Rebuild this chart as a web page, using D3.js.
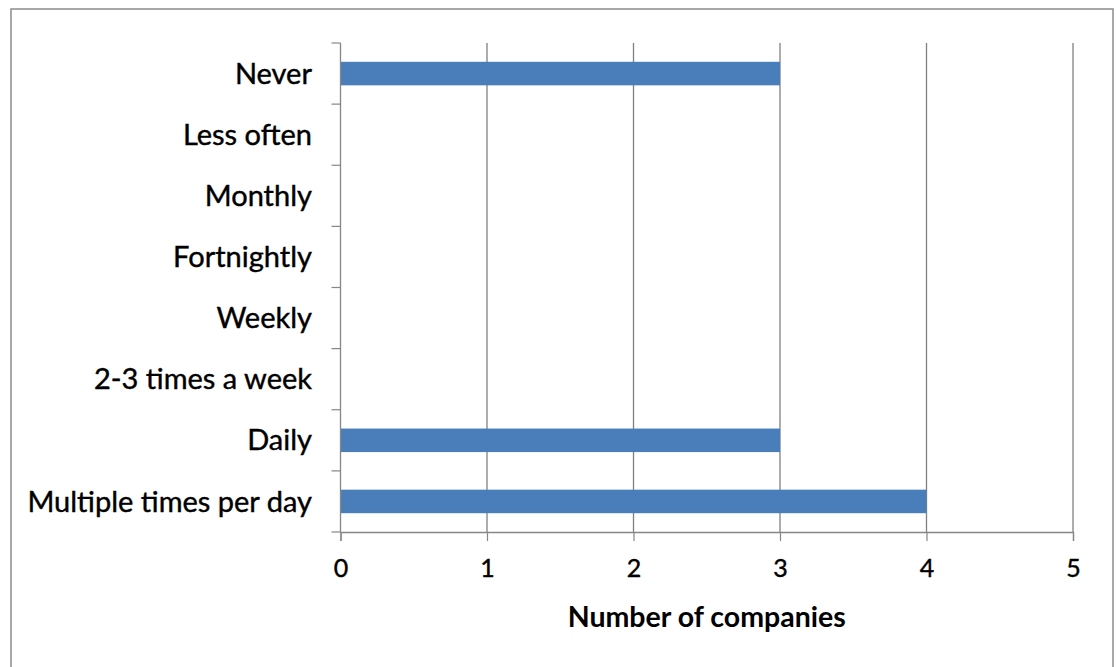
<!DOCTYPE html>
<html><head><meta charset="utf-8">
<script src="https://cdn.jsdelivr.net/npm/d3@7"></script>
<style>body{margin:0;background:#fff}svg{display:block}</style>
</head><body>
<svg id="c" width="1116" height="667"></svg>
<script>
const categories = ["Never","Less often","Monthly","Fortnightly","Weekly","2-3 times a week","Daily","Multiple times per day"];
const values = [3,0,0,0,0,0,3,4];
const xTicks = [0,1,2,3,4,5];
const xTitle = "Number of companies";

const svg = d3.select("#c");
const font = "Lato, 'Open Sans', sans-serif";
const m = {left:340.5, right:1073, top:43, bottom:532};

svg.append("rect").attr("x",11).attr("y",9).attr("width",1102).attr("height",665)
  .attr("fill","#fff").attr("stroke","#8c8c8c").attr("stroke-width",1.5);

const x = d3.scaleLinear().domain([0,5]).range([m.left,m.right]);
const y = d3.scaleBand().domain(categories).range([m.top,m.bottom]).paddingInner(0.615).paddingOuter(0.3075);

// gridlines
svg.append("g").selectAll("line").data(xTicks.filter(d=>d>0)).join("line")
  .attr("x1",d=>x(d)).attr("x2",d=>x(d)).attr("y1",m.top).attr("y2",m.bottom)
  .attr("stroke","#808080").attr("stroke-width",1.3);

// bars
svg.append("g").selectAll("rect").data(categories.map((c,i)=>({c,v:values[i]})).filter(d=>d.v>0)).join("rect")
  .attr("x",x(0)).attr("y",d=>y(d.c)).attr("width",d=>x(d.v)-x(0)).attr("height",y.bandwidth())
  .attr("fill","#4A7EBB");

// x axis
const xa = svg.append("g").attr("transform",`translate(0,${m.bottom})`)
  .call(d3.axisBottom(x).tickValues(xTicks).tickFormat(d3.format("d")).tickSize(9).tickPadding(23));
xa.select(".domain").attr("stroke","#868686").attr("stroke-width",1.3);
xa.selectAll(".tick line").attr("stroke","#868686").attr("stroke-width",1.2);
xa.selectAll("text").attr("font-family",font).attr("font-size",25).attr("fill","#000")
  .attr("stroke","#000").attr("stroke-width",0.4).attr("dy","0.5em");

// y axis line and ticks at band boundaries
const step = y.step();
const bounds = d3.range(categories.length+1).map(i=>m.top+i*step);
svg.append("line").attr("x1",m.left).attr("x2",m.left).attr("y1",m.top).attr("y2",m.bottom)
  .attr("stroke","#868686").attr("stroke-width",1.3);
svg.append("g").selectAll("line").data(bounds).join("line")
  .attr("x1",m.left-9).attr("x2",m.left).attr("y1",d=>d).attr("y2",d=>d)
  .attr("stroke","#868686").attr("stroke-width",1.2);

svg.append("g").selectAll("text").data(categories).join("text")
  .attr("x",312).attr("y",d=>y(d)+y.bandwidth()/2).attr("dy","0.35em")
  .attr("text-anchor","end").attr("font-family",font).attr("font-size",29).attr("fill","#000")
  .attr("stroke","#000").attr("stroke-width",0.4)
  .text(d=>d);

svg.append("text").attr("x",(m.left+m.right)/2).attr("y",617).attr("dy","0.35em")
  .attr("text-anchor","middle").attr("font-family",font).attr("font-weight","bold").attr("font-size",28.5)
  .attr("fill","#000").text(xTitle);
</script>
</body></html>
